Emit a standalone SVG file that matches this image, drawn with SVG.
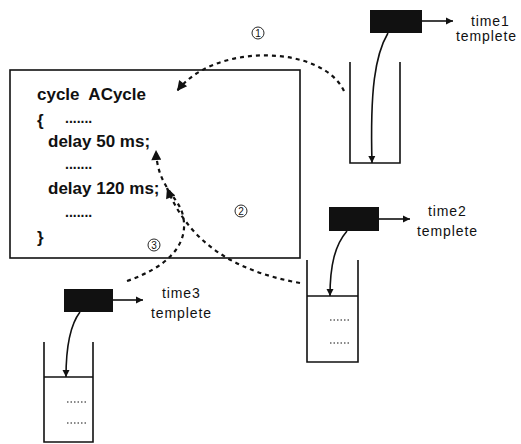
<svg xmlns="http://www.w3.org/2000/svg" width="521" height="444" viewBox="0 0 521 444">
<style>
.code{font-family:"Liberation Sans",Arial,sans-serif;font-weight:bold;font-size:17px;fill:#111}
.dots{font-family:"Liberation Sans",Arial,sans-serif;font-weight:bold;font-size:14px;fill:#111}
.lbl{font-family:"Liberation Sans",Arial,sans-serif;font-size:14px;letter-spacing:0.9px;fill:#111}
.num{font-family:"Liberation Sans",Arial,sans-serif;font-size:10px;fill:#111}
.ln{fill:none;stroke:#111;stroke-width:1.6}
.solid{fill:none;stroke:#111;stroke-width:1.6}
.dash{fill:none;stroke:#111;stroke-width:2.2;stroke-dasharray:4 4}
.blk{fill:#111}
.sdot{fill:none;stroke:#111;stroke-width:1;stroke-dasharray:1.5 2}
</style>
<defs>
<marker id="ah" viewBox="0 0 10 10" refX="10" refY="5" markerWidth="7" markerHeight="8" markerUnits="userSpaceOnUse" orient="auto">
<path d="M0,0 L10,5 L0,10 z" fill="#111"/>
</marker>
<marker id="dh" viewBox="0 0 10 10" refX="10" refY="5" markerWidth="13" markerHeight="10" markerUnits="userSpaceOnUse" orient="auto">
<path d="M0,0 L10,5 L0,10 z" fill="#111"/>
</marker>
</defs>
<rect width="521" height="444" fill="#fff"/>

<g id="cycle-box">
<rect x="10" y="70" width="290" height="188" class="ln"/>
<text class="code" x="37" y="100" xml:space="preserve">cycle  ACycle</text>
<text class="code" x="37" y="126">{</text>
<text class="dots" x="65" y="123">.......</text>
<text class="code" x="48" y="147">delay 50 ms;</text>
<text class="dots" x="65" y="169">.......</text>
<text class="code" x="48" y="194">delay 120 ms;</text>
<text class="dots" x="65" y="217">.......</text>
<text class="code" x="37" y="243">}</text>
</g>

<g id="time1">
<rect x="370" y="10" width="52" height="23" class="blk"/>
<path d="M350,62 V163 H400 V62" class="ln"/>
<text class="lbl" x="471" y="26">time1</text>
<text class="lbl" x="456" y="41">templete</text>
</g>

<g id="time2">
<rect x="329" y="207" width="50" height="24" class="blk"/>
<path d="M307,260 V362 H358 V260" class="ln"/>
<line x1="307" y1="296" x2="358" y2="296" class="ln"/>
<line x1="330" y1="320" x2="350" y2="320" class="sdot"/>
<line x1="330" y1="343" x2="350" y2="343" class="sdot"/>
<text class="lbl" x="428" y="216">time2</text>
<text class="lbl" x="417" y="236">templete</text>
</g>

<g id="time3">
<rect x="64" y="289" width="49" height="23" class="blk"/>
<path d="M44,342 V442 H93 V342" class="ln"/>
<line x1="44" y1="377" x2="93" y2="377" class="ln"/>
<line x1="67" y1="402" x2="86" y2="402" class="sdot"/>
<line x1="67" y1="423" x2="86" y2="423" class="sdot"/>
<text class="lbl" x="162" y="298">time3</text>
<text class="lbl" x="151" y="318">templete</text>
</g>

<g id="labels">
<circle cx="258" cy="33" r="6" fill="none" stroke="#111" stroke-width="0.9"/>
<text class="num" x="258" y="36.5" text-anchor="middle">1</text>
<circle cx="241" cy="211" r="6" fill="none" stroke="#111" stroke-width="0.9"/>
<text class="num" x="241" y="214.5" text-anchor="middle">2</text>
<circle cx="154" cy="245" r="6" fill="none" stroke="#111" stroke-width="0.9"/>
<text class="num" x="154" y="248.5" text-anchor="middle">3</text>
</g>

<g id="connectors">
<line x1="422" y1="21" x2="453" y2="21" class="solid" marker-end="url(#ah)"/>
<path d="M388,33 C375,55 370,90 372,163" class="solid" marker-end="url(#ah)"/>
<line x1="379" y1="219" x2="410" y2="219" class="solid" marker-end="url(#ah)"/>
<path d="M347,231 C335,245 330,265 330,296" class="solid" marker-end="url(#ah)"/>
<line x1="113" y1="300" x2="143" y2="300" class="solid" marker-end="url(#ah)"/>
<path d="M80,312 C70,325 66,345 66,377" class="solid" marker-end="url(#ah)"/>
<path d="M344,91 C322,45 215,42 177,91" class="dash" marker-end="url(#dh)"/>
<path d="M300,283 C245,273 192,250 167,188" class="dash" marker-end="url(#dh)"/>
<path d="M127,281 C165,268 192,245 182,212 C176,195 157,185 156,150" class="dash" marker-end="url(#dh)"/>
</g>
</svg>
